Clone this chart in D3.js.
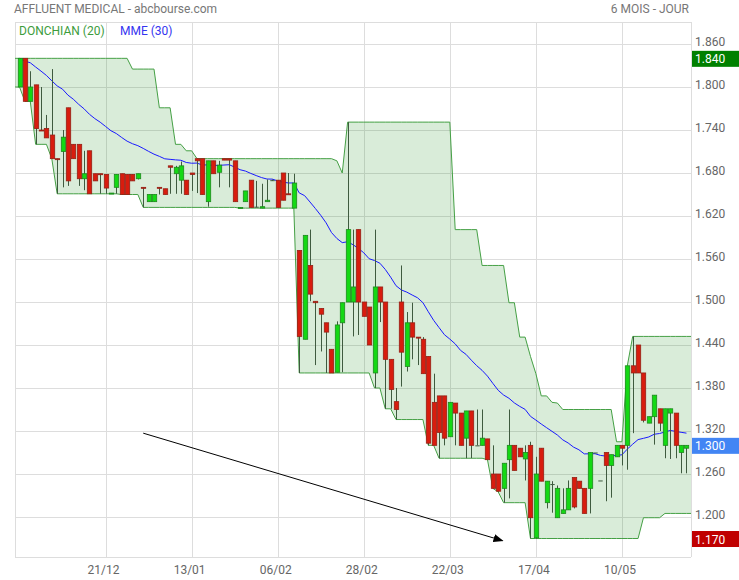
<!DOCTYPE html>
<html>
<head>
<meta charset="utf-8">
<script src="https://cdn.jsdelivr.net/npm/d3@7"></script>
<style>
  body { margin: 0; background: #fff; }
  text { font-family: Roboto, sans-serif; }
</style>
</head>
<body>
<svg id="chart" width="739" height="580"></svg>
<script>
"use strict";

const TITLE = "AFFLUENT MEDICAL - abcbourse.com";
const PERIOD = "6 MOIS - JOUR";

const opens = [
  1.800, 1.840, 1.780, 1.803, 1.740, 1.742, 1.733, 1.700, 1.710, 1.771,
  1.720, 1.720, 1.672, 1.711, 1.679, 1.679, 1.678, 1.651, 1.660, 1.679,
  1.678, 1.678, 1.672, 1.660, 1.640, 1.640, 1.660, 1.658, 1.690, 1.679,
  1.670, 1.670, 1.680, 1.700, 1.700, 1.640, 1.697, 1.681, 1.700, 1.700,
  1.697, 1.631, 1.640, 1.670, 1.633, 1.631, 1.640, 1.670, 1.670, 1.680,
  1.651, 1.631, 1.572, 1.448, 1.551, 1.501, 1.491, 1.471, 1.434, 1.402,
  1.471, 1.500, 1.500, 1.601, 1.500, 1.493, 1.401, 1.521, 1.500, 1.420,
  1.361, 1.500, 1.410, 1.471, 1.451, 1.448, 1.424, 1.360, 1.369, 1.369,
  1.312, 1.359, 1.345, 1.310, 1.348, 1.300, 1.300, 1.309, 1.260, 1.260,
  1.240, 1.280, 1.300, 1.296, 1.281, 1.300, 1.171, 1.296, 1.220, 1.246,
  1.199, 1.205, 1.210, 1.255, 1.250, 1.240, 1.240, 1.290, 1.251, 1.290,
  1.272, 1.284, 1.300, 1.300, 1.411, 1.440, 1.401, 1.331, 1.340, 1.351,
  1.300, 1.345, 1.345, 1.290, 1.296
];
const highs = [
  1.840, 1.840, 1.822, 1.803, 1.800, 1.761, 1.825, 1.700, 1.740, 1.771,
  1.720, 1.720, 1.711, 1.711, 1.679, 1.679, 1.678, 1.652, 1.678, 1.679,
  1.678, 1.678, 1.679, 1.660, 1.650, 1.650, 1.660, 1.658, 1.690, 1.690,
  1.696, 1.670, 1.680, 1.700, 1.700, 1.697, 1.697, 1.697, 1.700, 1.700,
  1.697, 1.632, 1.655, 1.670, 1.669, 1.665, 1.671, 1.671, 1.670, 1.680,
  1.680, 1.679, 1.572, 1.593, 1.601, 1.501, 1.491, 1.471, 1.434, 1.473,
  1.499, 1.751, 1.601, 1.601, 1.500, 1.493, 1.601, 1.521, 1.500, 1.420,
  1.380, 1.551, 1.486, 1.499, 1.451, 1.451, 1.424, 1.400, 1.369, 1.369,
  1.360, 1.359, 1.345, 1.348, 1.348, 1.350, 1.350, 1.309, 1.300, 1.260,
  1.275, 1.350, 1.300, 1.296, 1.300, 1.305, 1.284, 1.296, 1.250, 1.250,
  1.244, 1.240, 1.251, 1.255, 1.250, 1.240, 1.290, 1.290, 1.251, 1.290,
  1.287, 1.300, 1.300, 1.411, 1.452, 1.440, 1.401, 1.340, 1.370, 1.351,
  1.351, 1.351, 1.345, 1.300, 1.300
];
const lows = [
  1.800, 1.780, 1.780, 1.720, 1.740, 1.729, 1.700, 1.651, 1.660, 1.662,
  1.700, 1.662, 1.656, 1.651, 1.669, 1.651, 1.651, 1.651, 1.651, 1.650,
  1.650, 1.669, 1.671, 1.632, 1.640, 1.640, 1.650, 1.650, 1.651, 1.651,
  1.651, 1.650, 1.655, 1.652, 1.650, 1.633, 1.679, 1.660, 1.698, 1.660,
  1.640, 1.631, 1.640, 1.632, 1.632, 1.631, 1.640, 1.669, 1.632, 1.642,
  1.650, 1.631, 1.401, 1.448, 1.501, 1.412, 1.431, 1.401, 1.401, 1.402,
  1.402, 1.500, 1.452, 1.454, 1.480, 1.440, 1.380, 1.472, 1.351, 1.351,
  1.336, 1.382, 1.403, 1.420, 1.412, 1.400, 1.300, 1.300, 1.282, 1.300,
  1.312, 1.300, 1.300, 1.282, 1.282, 1.300, 1.300, 1.280, 1.240, 1.235,
  1.220, 1.226, 1.265, 1.284, 1.251, 1.170, 1.170, 1.250, 1.212, 1.206,
  1.199, 1.205, 1.210, 1.212, 1.240, 1.205, 1.205, 1.290, 1.251, 1.222,
  1.227, 1.284, 1.272, 1.266, 1.317, 1.401, 1.332, 1.331, 1.301, 1.320,
  1.282, 1.281, 1.282, 1.261, 1.261
];
const closes = [
  1.840, 1.780, 1.800, 1.742, 1.739, 1.729, 1.700, 1.699, 1.730, 1.669,
  1.700, 1.672, 1.679, 1.651, 1.669, 1.678, 1.659, 1.652, 1.678, 1.650,
  1.650, 1.669, 1.679, 1.659, 1.650, 1.650, 1.659, 1.650, 1.688, 1.688,
  1.690, 1.650, 1.678, 1.697, 1.650, 1.697, 1.679, 1.691, 1.698, 1.698,
  1.640, 1.632, 1.655, 1.632, 1.633, 1.633, 1.642, 1.670, 1.632, 1.642,
  1.650, 1.666, 1.452, 1.593, 1.511, 1.499, 1.483, 1.458, 1.401, 1.468,
  1.499, 1.601, 1.521, 1.500, 1.480, 1.440, 1.521, 1.500, 1.420, 1.378,
  1.350, 1.430, 1.471, 1.451, 1.450, 1.400, 1.303, 1.300, 1.318, 1.310,
  1.360, 1.345, 1.300, 1.348, 1.300, 1.300, 1.310, 1.280, 1.240, 1.236,
  1.275, 1.300, 1.265, 1.284, 1.290, 1.199, 1.260, 1.250, 1.250, 1.246,
  1.240, 1.210, 1.240, 1.214, 1.240, 1.205, 1.290, 1.290, 1.251, 1.272,
  1.287, 1.300, 1.296, 1.411, 1.401, 1.401, 1.335, 1.340, 1.370, 1.331,
  1.351, 1.351, 1.300, 1.300, 1.300
];

// x-axis: session index of each labelled date
const dateTickIndex = [16, 32, 48, 64, 80, 96, 112];
const dateTickLabels = ["21/12", "13/01", "06/02", "28/02", "22/03", "17/04", "10/05"];
const priceTicks = [1.20, 1.26, 1.32, 1.38, 1.44, 1.50, 1.56, 1.62, 1.68, 1.74, 1.80, 1.86];

// hand-drawn trend arrow, in (session, price)
const arrowFrom = [23, 1.317];
const arrowTo = [89.8, 1.167];

const DONCHIAN_PERIOD = 20;
const EMA_PERIOD = 30;

const svg = d3.select("#chart");
const plotLeft = 15, plotRight = 691, plotTop = 22, plotBottom = 557;
const n = closes.length;

const x = d3.scaleLinear().domain([-0.84, n - 1 + 0.84]).range([plotLeft, plotRight]);
const y = d3.scaleLinear().domain([1.1442, 1.8907]).range([plotBottom, plotTop]);

// indicators
const upper = highs.map((_, i) => d3.max(highs.slice(Math.max(0, i - DONCHIAN_PERIOD + 1), i + 1)));
const lower = lows.map((_, i) => d3.min(lows.slice(Math.max(0, i - DONCHIAN_PERIOD + 1), i + 1)));
const ema = [];
const k = 2 / (EMA_PERIOD + 1);
closes.forEach((c, i) => ema.push(i === 0 ? c : ema[i - 1] + k * (c - ema[i - 1])));

// grid
const grid = svg.append("g").attr("stroke", "#dddddd").attr("stroke-width", 1);
grid.selectAll(".hg").data(priceTicks).enter().append("line")
  .attr("x1", plotLeft).attr("x2", plotRight)
  .attr("y1", (d) => Math.round(y(d)) + 0.5).attr("y2", (d) => Math.round(y(d)) + 0.5);
grid.selectAll(".vg").data(dateTickIndex).enter().append("line")
  .attr("y1", plotTop).attr("y2", plotBottom)
  .attr("x1", (d) => Math.round(x(d)) + 0.5).attr("x2", (d) => Math.round(x(d)) + 0.5);
// frame
grid.append("line").attr("x1", plotLeft + 0.5).attr("x2", plotLeft + 0.5).attr("y1", plotTop).attr("y2", plotBottom);
grid.append("line").attr("x1", plotRight + 0.5).attr("x2", plotRight + 0.5).attr("y1", plotTop).attr("y2", plotBottom);
grid.append("line").attr("x1", plotLeft).attr("x2", plotRight).attr("y1", plotTop + 0.5).attr("y2", plotTop + 0.5);
grid.append("line").attr("x1", plotLeft).attr("x2", plotRight).attr("y1", plotBottom + 0.5).attr("y2", plotBottom + 0.5);

// Donchian channel, stretched to the plot edges
const band = [{ px: plotLeft, u: upper[0], l: lower[0] }]
  .concat(upper.map((u, i) => ({ px: x(i), u: u, l: lower[i] })))
  .concat([{ px: plotRight, u: upper[n - 1], l: lower[n - 1] }]);

svg.append("path")
  .datum(band)
  .attr("fill", "rgba(0,128,0,0.15)")
  .attr("d", d3.area().x((d) => d.px).y0((d) => y(d.l)).y1((d) => y(d.u)));

const bandLine = (key) => d3.line().x((d) => d.px).y((d) => y(d[key]));
["u", "l"].forEach((key) => {
  svg.append("path")
    .datum(band)
    .attr("fill", "none")
    .attr("stroke", "#45a045")
    .attr("stroke-width", 1)
    .attr("d", bandLine(key));
});

svg.append("path")
  .datum(ema)
  .attr("fill", "none")
  .attr("stroke", "#1a1aff")
  .attr("stroke-width", 1)
  .attr("d", d3.line().x((d, i) => x(i)).y((d) => y(d)));

// candles
const candles = svg.selectAll(".candle")
  .data(closes.map((c, i) => ({ i: i, o: opens[i], h: highs[i], l: lows[i], c: c })))
  .enter()
  .append("g")
  .attr("class", "candle");

candles.append("line")
  .attr("x1", (d) => Math.round(x(d.i)) + 0.5)
  .attr("x2", (d) => Math.round(x(d.i)) + 0.5)
  .attr("y1", (d) => y(d.h))
  .attr("y2", (d) => y(d.l))
  .attr("stroke", "#3f5a3f")
  .attr("stroke-width", 1);

const bodyW = 4.4;
candles.append("rect")
  .attr("x", (d) => Math.round(x(d.i)) + 0.5 - bodyW / 2)
  .attr("width", bodyW)
  .attr("y", (d) => y(Math.max(d.o, d.c)))
  .attr("height", (d) => Math.max(1, Math.abs(y(d.o) - y(d.c))))
  .attr("fill", (d) => (d.c > d.o ? "#14d814" : d.c < d.o ? "#d81c0e" : "#3f5a3f"))
  .attr("stroke", (d) => (d.c > d.o ? "#1d8a1d" : d.c < d.o ? "#962015" : "#3f5a3f"))
  .attr("stroke-width", (d) => (d.c === d.o ? 0 : 0.8));

// arrow
svg.append("defs").append("marker")
  .attr("id", "head")
  .attr("viewBox", "0 0 10 10")
  .attr("refX", 9).attr("refY", 5)
  .attr("markerWidth", 10).attr("markerHeight", 10)
  .attr("markerUnits", "userSpaceOnUse")
  .attr("orient", "auto")
  .append("path").attr("d", "M0,1 L10,5 L0,9 Z").attr("fill", "#000");
svg.append("line")
  .attr("x1", x(arrowFrom[0])).attr("y1", y(arrowFrom[1]))
  .attr("x2", x(arrowTo[0])).attr("y2", y(arrowTo[1]))
  .attr("stroke", "#000").attr("stroke-width", 1)
  .attr("marker-end", "url(#head)");

// price axis on the right
svg.append("g")
  .selectAll("text")
  .data(priceTicks)
  .enter()
  .append("text")
  .attr("x", 695)
  .attr("y", (d) => y(d) + 2)
  .attr("font-size", 12)
  .attr("fill", "#666")
  .text((d) => d.toFixed(3));

const flags = [
  { v: d3.max(highs), color: "#008000" },
  { v: closes[n - 1], color: "#4285f4" },
  { v: d3.min(lows), color: "#c00000" }
];
const flag = svg.append("g").selectAll("g").data(flags).enter().append("g");
flag.append("rect")
  .attr("x", 692).attr("width", 47)
  .attr("y", (d) => y(d.v) - 7.5).attr("height", 16)
  .attr("fill", (d) => d.color);
flag.append("text")
  .attr("x", 695)
  .attr("y", (d) => y(d.v) + 5)
  .attr("font-size", 12)
  .attr("fill", "#fff")
  .text((d) => d.v.toFixed(3));

// date axis
svg.append("g")
  .selectAll("text")
  .data(dateTickIndex)
  .enter()
  .append("text")
  .attr("x", (d) => x(d) - 2)
  .attr("y", 574)
  .attr("text-anchor", "middle")
  .attr("font-size", 12)
  .attr("fill", "#666")
  .text((d, i) => dateTickLabels[i]);

// header and legend
svg.append("text").attr("x", 14).attr("y", 13).attr("font-size", 12).attr("fill", "#777").text(TITLE);
svg.append("text").attr("x", 689).attr("y", 13).attr("text-anchor", "end")
  .attr("font-size", 12).attr("fill", "#777").text(PERIOD);
svg.append("text").attr("x", 19).attr("y", 35).attr("font-size", 12).attr("fill", "#3c9c3c")
  .text("DONCHIAN (" + DONCHIAN_PERIOD + ")");
svg.append("text").attr("x", 120).attr("y", 35).attr("font-size", 12).attr("fill", "#3535f0")
  .text("MME (" + EMA_PERIOD + ")");
</script>
</body>
</html>
